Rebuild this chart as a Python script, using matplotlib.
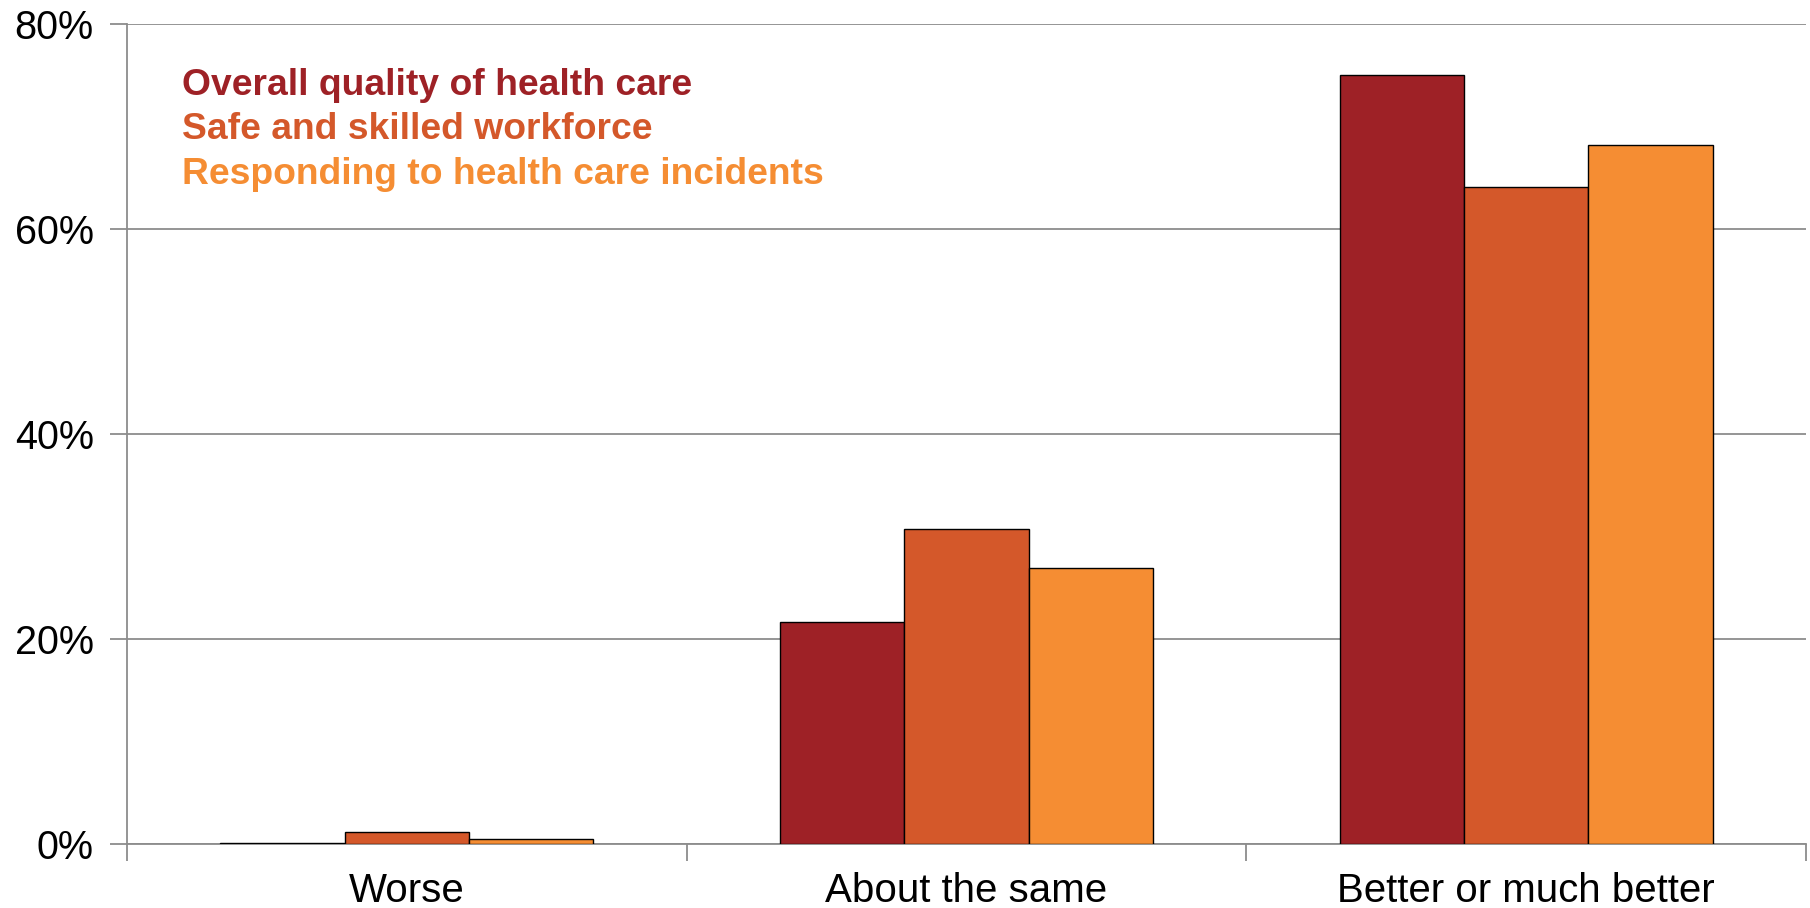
import numpy as np
import matplotlib.pyplot as plt
from matplotlib.ticker import FixedLocator

categories = ['Worse', 'About the same', 'Better or much better']
series_names = ['Overall quality of health care',
                'Safe and skilled workforce',
                'Responding to health care incidents']
overall = [0.1, 21.7, 75.0]
workforce = [1.2, 30.7, 64.1]
incidents = [0.45, 26.9, 68.2]
colors = ['#9E2126', '#D4582A', '#F58D33']

plt.rcParams['font.family'] = ['Liberation Sans', 'DejaVu Sans']

fig = plt.figure(figsize=(18.1, 9.08), dpi=100)
ax = fig.add_axes([0.0702, 0.0705, 0.9276, 0.9031])

x = np.arange(len(categories))
width = 0.2222
for i, (vals, col) in enumerate(zip([overall, workforce, incidents], colors)):
    ax.bar(x + (i - 1) * width, vals, width, color=col,
           edgecolor='black', linewidth=1.0, zorder=3)

ax.set_xlim(-0.5, 2.5)
ax.set_ylim(0, 80)
ax.set_yticks([0, 20, 40, 60, 80])
ax.set_yticklabels(['0%', '20%', '40%', '60%', '80%'])
ax.set_xticks(x)
ax.set_xticklabels(categories)
ax.xaxis.set_minor_locator(FixedLocator([-0.5, 0.5, 1.5, 2.5]))

grid_col = '#8C8C8C'
ax.grid(axis='y', color=grid_col, linewidth=1.3, zorder=0)
ax.set_axisbelow(True)
for side in ['top', 'right']:
    ax.spines[side].set_visible(False)
for side in ['left', 'bottom']:
    ax.spines[side].set_color(grid_col)
    ax.spines[side].set_linewidth(1.3)

ax.tick_params(axis='x', which='major', length=0, pad=20, labelsize=29)
ax.tick_params(axis='x', which='minor', length=12, width=1.3, color=grid_col)
ax.tick_params(axis='y', length=12, width=1.3, color=grid_col, pad=12, labelsize=28.5)

# coloured text legend in the top-left corner
for i, (name, col) in enumerate(zip(series_names, colors)):
    ax.text(0.0325, 0.925 - i * 0.054, name, transform=ax.transAxes,
            color=col, fontsize=26.8, fontweight='bold', va='center', ha='left')

fig.savefig('out.png', dpi=100)
